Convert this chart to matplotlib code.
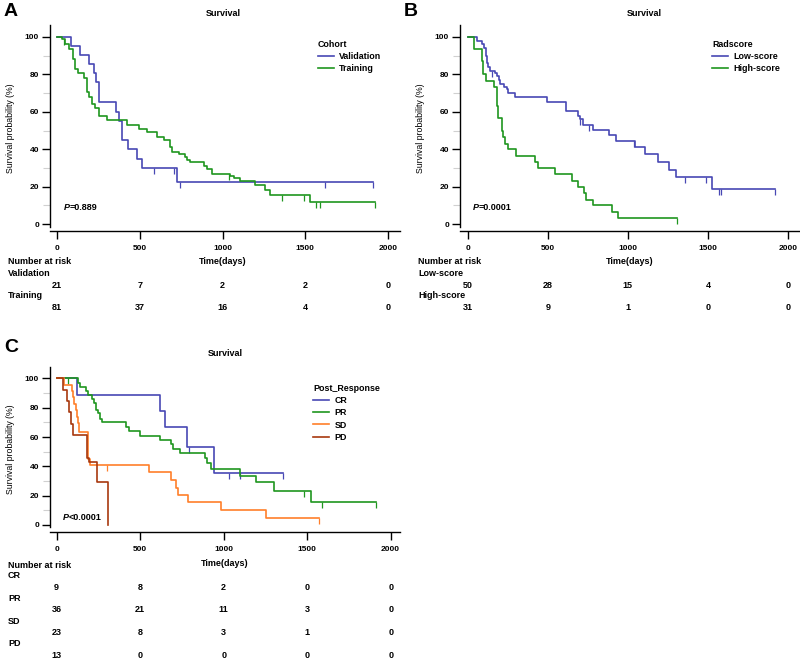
import numpy as np
import matplotlib
matplotlib.use("Agg")
import matplotlib.pyplot as plt
from matplotlib.ticker import MultipleLocator

plt.rcParams['font.family'] = ['Liberation Sans', 'DejaVu Sans']

BLUE = '#4848b4'
GREEN = '#1f961f'
ORANGE = '#ff7f2a'
BROWN = '#a8380e'

# ---- panel A : cohort ----
val_t = [0, 87, 141, 191, 222, 238, 252, 358, 373, 393, 429, 483, 514, 725]
val_s = [100, 95.2, 90.5, 85.7, 80.9, 76.2, 65.3, 60.0, 55.2, 45.2, 39.9, 35.0, 30.0, 22.6]
val_end = 1907
val_cens = [584, 705, 745, 1621, 1907]

tr_t = [0, 30, 50, 70, 97, 111, 125, 161, 181, 191, 211, 232, 252, 302, 423, 493, 544, 604,
        644, 685, 695, 735, 775, 785, 806, 886, 906, 936, 1047, 1067, 1108, 1198, 1259, 1289, 1531]
tr_s = [100, 98.8, 96.3, 93.8, 88, 83, 81, 78, 70.6, 68, 64, 62, 58, 55.5, 52.8, 51, 49.3, 46.6,
        44.8, 41.3, 38.6, 37.4, 36, 34.2, 33.3, 31, 29.7, 27, 25.8, 24.4, 23.1, 20.8, 18.1, 15.8, 11.9]
tr_end = 1923
tr_cens = [40, 1040, 1359, 1490, 1567, 1587, 1923]

# ---- panel B : radscore ----
lo_t = [0, 60, 87, 102, 114, 123, 129, 139, 170, 185, 193, 202, 227, 243, 254, 295, 497, 611,
        690, 700, 721, 784, 881, 925, 1044, 1106, 1189, 1258, 1300, 1526]
lo_s = [100, 98, 96, 94, 90, 86, 84, 82, 81, 79, 77, 75, 73, 72, 70, 68, 65.5, 60.5,
        58, 56, 53, 50.5, 47.5, 44.5, 41, 37.5, 33, 29, 25, 18.5]
lo_end = 1921
lo_cens = [150, 700, 760, 1040, 1355, 1491, 1567, 1584, 1921]

hi_t = [0, 40, 87, 98, 112, 166, 181, 191, 212, 222, 233, 254, 301, 420, 437, 545, 649,
        686, 726, 738, 784, 898, 940]
hi_s = [100, 93.5, 87, 80, 76.5, 73.5, 63, 56.5, 50, 46.5, 43, 40, 36.5, 33, 30, 26.5, 23,
        20, 16.5, 13, 10, 6.5, 3.3]
hi_end = 1304
hi_cens = [1304]

# ---- panel C : post response ----
cr_t = [0, 124, 618, 651, 781, 942]
cr_s = [100, 88.9, 77.8, 66.7, 53.3, 35.6]
cr_end = 1355
cr_cens = [793, 1032, 1096, 1355]

pr_t = [0, 125, 142, 176, 189, 210, 225, 237, 250, 262, 269, 414, 434, 498, 618, 687, 697,
        737, 886, 900, 926, 1100, 1191, 1299, 1524]
pr_s = [100, 97.2, 94.4, 91.7, 88.9, 86.1, 83.3, 78.6, 76.3, 72.2, 70, 67, 64, 61, 58, 55, 52,
        49, 46, 42, 38.5, 33.5, 29, 23, 15.5]
pr_end = 1912
pr_cens = [70, 1484, 1590, 1912]

sd_t = [0, 46, 90, 100, 104, 116, 120, 125, 133, 189, 199, 552, 687, 717, 727, 787, 986, 1255]
sd_s = [100, 95.6, 91.3, 87, 82.6, 78.3, 73.9, 69.6, 63.5, 45, 41, 36, 30.5, 25.5, 20.5, 15.5, 10, 5]
sd_end = 1568
sd_cens = [303, 1568]

pd_t = [0, 36, 60, 76, 84, 100, 183, 195, 239, 309]
pd_s = [100, 92.3, 84.6, 76.9, 69.2, 61.5, 46, 43, 29, 0]
pd_end = 309
pd_cens = []

risk_times = [0, 500, 1000, 1500, 2000]
risk_A = {'Validation': [21, 7, 2, 2, 0], 'Training': [81, 37, 16, 4, 0]}
risk_B = {'Low-score': [50, 28, 15, 4, 0], 'High-score': [31, 9, 1, 0, 0]}
risk_C = {'CR': [9, 8, 2, 0, 0], 'PR': [36, 21, 11, 3, 0],
          'SD': [23, 8, 3, 1, 0], 'PD': [13, 0, 0, 0, 0]}

W, H = 800, 659
fig = plt.figure(figsize=(W / 100, H / 100), dpi=100)


def fx(px):
    return px / W


def fy(py):
    return 1 - py / H


def km(ax, t, s, end, cens, color, label):
    tt = list(t) + [end]
    ss = list(s) + [s[-1]]
    ax.step(tt, ss, where='post', color=color, lw=1.2, label=label)
    if cens:
        cy = [s[np.searchsorted(t, c, side='right') - 1] for c in cens]
        ax.plot(cens, cy, ls='none', marker=3, ms=4, mew=0.9, color=color)


def style(ax, xlim, ylim):
    ax.set_xlim(*xlim)
    ax.set_ylim(*ylim)
    for sp in ['top', 'right']:
        ax.spines[sp].set_visible(False)
    ax.spines['left'].set_bounds(-1.5, ylim[1])
    for sp in ['left', 'bottom']:
        ax.spines[sp].set_linewidth(1.0)
    ax.set_xticks(risk_times)
    ax.set_yticks([0, 20, 40, 60, 80, 100])
    ax.yaxis.set_minor_locator(MultipleLocator(10))
    ax.tick_params(axis='y', which='minor', length=5, color='#d0d0d0', width=0.8)
    ax.tick_params(axis='both', which='major', length=6, width=1.0, labelsize=6, pad=2)
    ax.tick_params(axis='x', which='major', pad=4)
    for lab in ax.get_xticklabels() + ax.get_yticklabels():
        lab.set_fontweight('bold')
    ax.set_ylabel('Survival probability (%)', fontsize=6.3, labelpad=7)


def pval(ax, x, y, txt):
    t1 = fig.text(fx(x), fy(y), 'P', fontsize=6.5, fontweight='bold', style='italic', va='center')
    ax.annotate(txt, xy=(1, 0.5), xycoords=t1, va='center', fontsize=6.5, fontweight='bold')


def risk(ax, left_px, head_y, rows, xlab_x, row_gap):
    fig.text(fx(left_px), fy(head_y), 'Number at risk', fontsize=6.5, fontweight='bold', va='center')
    fig.text(fx(xlab_x), fy(head_y - 1), 'Time(days)', fontsize=6.5, fontweight='bold',
             va='center', ha='center')
    tr = matplotlib.transforms.blended_transform_factory(ax.transData, fig.transFigure)
    y = head_y + 11
    for name, vals in rows.items():
        fig.text(fx(left_px), fy(y), name, fontsize=6.5, fontweight='bold', va='center')
        for t, v in zip(risk_times, vals):
            ax.text(t, fy(y + row_gap - 11), str(v), transform=tr, fontsize=6.5,
                    fontweight='bold', ha='center', va='center')
        y += row_gap


def legend(ax, title, x, y):
    leg = ax.legend(title=title, loc='upper left', bbox_to_anchor=(fx(x), fy(y)),
                    bbox_transform=fig.transFigure, frameon=False, fontsize=6.4,
                    title_fontsize=6.4, handlelength=1.8, handletextpad=0.6,
                    labelspacing=0.36, borderpad=0, borderaxespad=0, alignment='left')
    leg.get_title().set_fontweight('bold')
    for t in leg.get_texts():
        t.set_fontweight('bold')


# ---- A ----
axA = fig.add_axes([fx(50), fy(231), fx(350), (231 - 25) / H])
km(axA, val_t, val_s, val_end, val_cens, BLUE, 'Validation')
km(axA, tr_t, tr_s, tr_end, tr_cens, GREEN, 'Training')
style(axA, (-42, 2072), (-3.7, 106.4))
legend(axA, 'Cohort', 318, 40)
pval(axA, 64, 207, '=0.889')
fig.text(fx(223), fy(13), 'Survival', fontsize=6.5, fontweight='bold', ha='center', va='center')
fig.text(fx(4), fy(12), 'A', fontsize=14, fontweight='bold', va='center')
risk(axA, 8, 262, risk_A, 223, 23)

# ---- B ----
axB = fig.add_axes([fx(460), fy(231), fx(340), (231 - 25) / H])
km(axB, lo_t, lo_s, lo_end, lo_cens, BLUE, 'Low-score')
km(axB, hi_t, hi_s, hi_end, hi_cens, GREEN, 'High-score')
style(axB, (-48, 2075), (-3.7, 106.4))
legend(axB, 'Radscore', 712, 40)
pval(axB, 473, 207, '=0.0001')
fig.text(fx(644), fy(13), 'Survival', fontsize=6.5, fontweight='bold', ha='center', va='center')
fig.text(fx(404), fy(12), 'B', fontsize=14, fontweight='bold', va='center')
risk(axB, 418, 262, risk_B, 630, 23)

# ---- C ----
axC = fig.add_axes([fx(50), fy(532), fx(350), (532 - 366.7) / H])
km(axC, cr_t, cr_s, cr_end, cr_cens, BLUE, 'CR')
km(axC, pr_t, pr_s, pr_end, pr_cens, GREEN, 'PR')
km(axC, sd_t, sd_s, sd_end, sd_cens, ORANGE, 'SD')
km(axC, pd_t, pd_s, pd_end, pd_cens, BROWN, 'PD')
style(axC, (-40, 2056), (-4.8, 108))
legend(axC, 'Post_Response', 313, 384)
pval(axC, 63, 517, '<0.0001')
fig.text(fx(225), fy(354), 'Survival', fontsize=6.5, fontweight='bold', ha='center', va='center')
fig.text(fx(4), fy(348), 'C', fontsize=14, fontweight='bold', va='center')
risk(axC, 8, 565, risk_C, 225, 22.5)

fig.savefig('out.png', dpi=100)
